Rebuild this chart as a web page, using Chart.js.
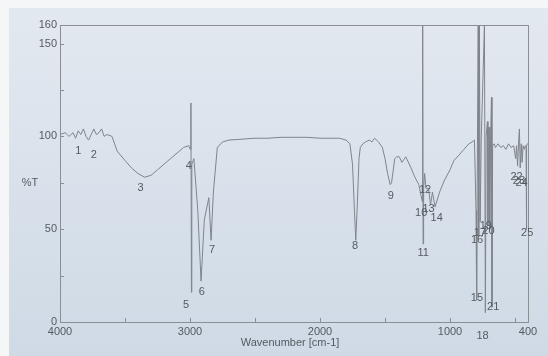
<!DOCTYPE html>
<html>
<head>
<meta charset="utf-8">
<script src="https://cdn.jsdelivr.net/npm/chart.js@4/dist/chart.umd.min.js"></script>
<style>
  html, body { margin:0; padding:0; background:#fff; }
  #wrap { width:548px; height:356px; }
</style>
</head>
<body>
<div id="wrap"><canvas id="irChart" width="548" height="356"></canvas></div>
<script>
// ==================== DATA ====================
const wavenumbers = [
  4000, 3960, 3930, 3900, 3880, 3860, 3840, 3820, 3800, 3780, 3760, 3740, 3720, 3700, 3680, 3660, 3640,
  3600, 3560, 3500, 3450, 3400, 3350, 3300, 3250, 3200, 3150, 3100, 3050, 3010,
  2998, 2993, 2989, 2986, 2970, 2940, 2915, 2890, 2855, 2838, 2820, 2790, 2750, 2700,
  2600, 2500, 2400, 2300, 2200, 2100, 2000, 1900, 1850, 1800, 1770, 1750, 1735, 1725, 1712, 1700, 1690,
  1670, 1650, 1620, 1600, 1580, 1550, 1520, 1500, 1480, 1460, 1450, 1440, 1425, 1410, 1390, 1370, 1340,
  1300, 1270, 1240, 1222, 1213, 1210, 1207, 1203, 1195, 1185, 1165, 1150, 1135, 1115, 1080, 1045, 1000,
  970, 930, 893, 855, 830, 812,
  800, 795, 789, 783, 779, 774, 768, 760, 735, 728, 722, 712, 708, 700, 694, 688, 681, 677, 672,
  660, 650, 630, 610, 590, 570, 550, 530, 510, 495, 488, 480, 472, 466, 460, 452, 445, 438, 430, 420,
  415, 412, 410, 405, 400
];
const transmittance = [
  101, 102, 100, 102, 99, 103, 101, 104, 100, 98, 101, 104, 101, 102, 104, 100, 101,
  100, 92, 87, 83, 80, 78, 79, 82, 85, 88, 91, 94, 95,
  93, 118, 16, 85, 88, 60, 22, 55, 67, 44, 70, 94, 97, 98,
  98.5, 99, 99, 99.5, 99.5, 99.5, 99, 99, 99, 98, 96, 85, 60, 44, 65, 88, 94,
  96, 97, 98, 97, 99, 97, 94, 88, 80, 74, 75, 80, 88, 89, 89, 86, 89,
  83, 78, 74, 68, 65, 160, 42, 72, 80, 72, 72, 63, 70, 62, 70, 76, 82,
  87, 90, 93, 96, 97, 98,
  60, 12, 95, 160, 47, 160, 54, 98, 160, 5, 100, 108, 52, 105, 50, 98, 121, 8, 95,
  96, 94, 96, 94, 95, 93, 96, 94, 95, 88, 95, 84, 97, 104, 83, 96, 86, 95, 93, 95,
  94, 50, 95, 96, 96
];

// peak numbers and where they sit (wavenumber, %T)
const peakLabels = ["1","2","3","4","5","6","7","8","9","10","11","12","13","14","15","16","17","18","19","20","21","22","23","24","25"];
const peakX = [3860, 3740, 3380, 3010, 3030, 2910, 2830, 1730, 1455, 1222, 1207, 1192, 1165, 1102, 793, 792, 770, 750, 725, 703, 668, 488, 470, 450, 406];
const peakY = [92, 90, 72, 84, 9, 16, 39, 41, 68, 59, 37, 71, 61, 56, 13, 44, 48, -7.5, 52, 49, 8, 78, 76, 75, 48];

const xTicks = [4000, 3500, 3000, 2500, 2000, 1500, 1000, 500, 400];
const xLabels = [4000, 3000, 2000, 1000, 400];
const yTicks = [0, 25, 50, 75, 100, 125, 150, 160];
const yLabels = [0, 50, 100, 150, 160];

// ==================== PLUGINS ====================
const paper = {
    id: 'paper',
    beforeDraw(chart){
        const ctx = chart.ctx;
        ctx.save();
        ctx.fillStyle = '#f4f6f8';
        ctx.fillRect(0, 0, chart.width, chart.height);
        const g = ctx.createLinearGradient(0, 0, 0, chart.height);
        g.addColorStop(0, '#e3e9f0');
        g.addColorStop(1, '#cfdae6');
        ctx.fillStyle = g;
        ctx.fillRect(9, 8, chart.width - 9, chart.height - 8);
        ctx.restore();
    }
};

const frame = {
    id: 'frame',
    afterDraw(chart){
        const ctx = chart.ctx;
        const a = chart.chartArea;
        const xs = chart.scales.x, ys = chart.scales.y;
        ctx.save();
        ctx.strokeStyle = '#8a8f95';
        ctx.lineWidth = 1;
        ctx.strokeRect(a.left + 0.5, a.top + 0.5, a.right - a.left, a.bottom - a.top);
        ctx.beginPath();
        xTicks.forEach(v => {
            const px = Math.round(xs.getPixelForValue(v)) + 0.5;
            ctx.moveTo(px, a.bottom);
            ctx.lineTo(px, a.bottom - 4);
        });
        yTicks.forEach(v => {
            const py = Math.round(ys.getPixelForValue(v)) + 0.5;
            ctx.moveTo(a.left, py);
            ctx.lineTo(a.left + 4, py);
        });
        ctx.stroke();

        // peak numbers
        ctx.fillStyle = '#555a60';
        ctx.font = '11px "Liberation Sans", Arial, sans-serif';
        ctx.textAlign = 'center';
        ctx.textBaseline = 'middle';
        peakLabels.forEach((t, i) => {
            ctx.fillText(t, xs.getPixelForValue(peakX[i]), ys.getPixelForValue(peakY[i]));
        });

        // axis titles
        ctx.fillText('%T', 30, 183);
        ctx.fillText('Wavenumber [cm-1]', 290, 343);
        ctx.restore();
    }
};

// ==================== CHART ====================
function initChart(){
    const ctx = document.getElementById('irChart').getContext('2d');
    const points = wavenumbers.map((w, i) => ({x: w, y: transmittance[i]}));
    new Chart(ctx, {
        type: 'line',
        data: {
            datasets: [{
                data: points,
                borderColor: '#80858b',
                borderWidth: 1,
                pointRadius: 0,
                tension: 0,
                fill: false
            }]
        },
        options: {
            responsive: false,
            animation: false,
            devicePixelRatio: 1,
            layout: { padding: { left: 0, right: 20, top: 25, bottom: 0 } },
            plugins: { legend: { display: false }, tooltip: { enabled: false } },
            scales: {
                x: {
                    type: 'linear',
                    reverse: true,
                    min: 400,
                    max: 4000,
                    afterBuildTicks: s => { s.ticks = xTicks.map(v => ({value: v})); },
                    afterFit: s => { s.height = 34; },
                    grid: { display: false, drawTicks: false },
                    border: { display: false },
                    ticks: {
                        padding: 3,
                        color: '#555a60',
                        font: { family: '"Liberation Sans", Arial, sans-serif', size: 11 },
                        maxRotation: 0,
                        autoSkip: false,
                        callback: v => xLabels.includes(v) ? String(v) : ''
                    }
                },
                y: {
                    min: 0,
                    max: 160,
                    afterBuildTicks: s => { s.ticks = yTicks.map(v => ({value: v})); },
                    afterFit: s => { s.width = 60; },
                    grid: { display: false, drawTicks: false },
                    border: { display: false },
                    ticks: {
                        padding: 3,
                        color: '#555a60',
                        font: { family: '"Liberation Sans", Arial, sans-serif', size: 11 },
                        autoSkip: false,
                        callback: v => yLabels.includes(v) ? String(v) : ''
                    }
                }
            }
        },
        plugins: [paper, frame]
    });
}

window.addEventListener('load', initChart);
</script>
</body>
</html>
